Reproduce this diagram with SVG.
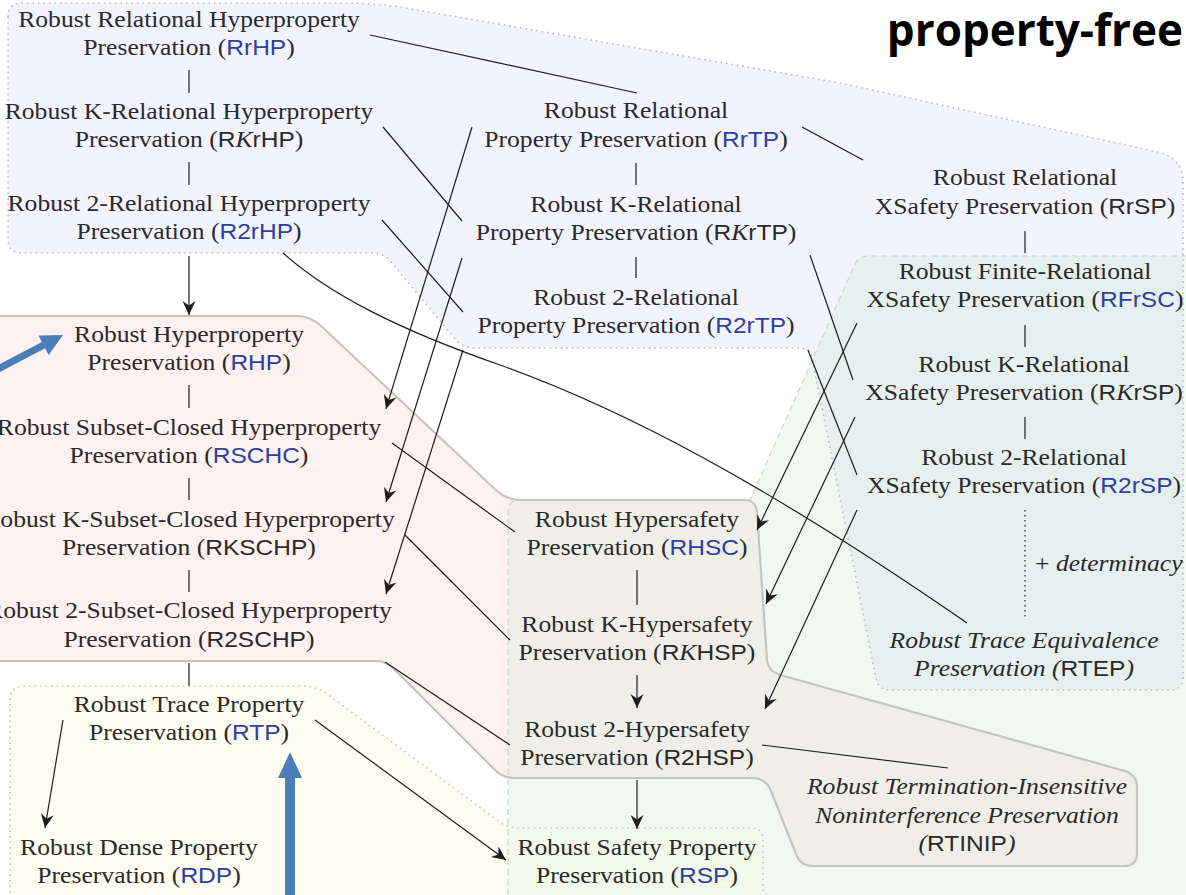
<svg xmlns="http://www.w3.org/2000/svg" width="1186" height="895" viewBox="0 0 1186 895">
  <style>
    .t { font-family: "Liberation Serif", "Times New Roman", serif; font-size: 23px; fill: #2a2a2a; text-anchor: middle; }
    .s { font-family: "Liberation Sans", Arial, sans-serif; font-size: 22px; }
    .lk { fill: #2f3f9f; }
    .it { font-style: italic; }
    .e { stroke: #1e1e1e; stroke-width: 1.2; fill: none; }
    .arr { marker-end: url(#stealth); }
    .blue { fill: #4a7ebb; }
    .dotb { fill: none; stroke: #b6b6c0; stroke-width: 1.6; stroke-dasharray: 1.5 4; }
    .doty { fill: none; stroke: #c2c2b8; stroke-width: 1.6; stroke-dasharray: 1.5 4; }
    .solid { fill: none; stroke: #c6c3c3; stroke-width: 2.2; }
    .dash { fill: none; stroke: #cad2cc; stroke-width: 1.2; stroke-dasharray: 6 4; }
  </style>
  <defs>
    <marker id="stealth" viewBox="-15 -8 16 16" refX="0" refY="0" markerWidth="16" markerHeight="16" markerUnits="userSpaceOnUse" orient="auto">
      <path d="M0,0 L-14,-6.5 L-9.5,0 L-14,6.5 Z" fill="#1e1e1e"/>
    </marker>
    <!-- region outlines -->
    <path id="reg-lav" d="M8,17 Q8,3 22,3 L345,3 Q372,3 400,7 L840,83 L1158,152 Q1183,158 1183,182 L1183,677 Q1183,690 1170,690 L890,690 Q878,690 876,678 L812,358 Q810,348 798,348 L475,348 Q463,348 456,340 L391,262 Q384,253 372,253 L22,253 Q8,253 8,239 Z"/>
    <path id="reg-pink" d="M-10,316 L296,316 Q310,316 320,325 L497,491 Q507,500 521,500 L744,500 Q756,500 757,512 L767,660 Q768,671 780,675 L1125,771 Q1137,775 1137,787 L1137,853 Q1137,866 1124,866 L813,866 Q800,866 796,854 L771,791 Q766,778 752,778 L514,778 Q503,778 495,770 L393,668 Q386,661 376,661 L-10,661 Z"/>
    <path id="reg-yel" d="M10,700 Q10,686 24,686 L303,686 Q316,686 326,693 L497,820 Q507,828 519,828 L751,828 Q763,828 763,840 L763,905 L10,905 Z"/>
    <path id="reg-green" d="M508,905 L508,512 Q508,500 520,500 L750,500 L855,264 Q859,256 868,256 L1195,256 L1195,905 Z"/>
    <clipPath id="clip-green">
      <use href="#reg-green"/>
    </clipPath>
  </defs>

  <rect width="1186" height="895" fill="#ffffff"/>

  <!-- region fills -->
  <g id="regions">
    <use href="#reg-green" fill="#eff9f1"/>
    <use href="#reg-lav" fill="#f3f3fd"/>
    <use href="#reg-pink" fill="#fdf1f1"/>
    <use href="#reg-yel" fill="#fcfcf1"/>
    <g clip-path="url(#clip-green)">
      <use href="#reg-lav" fill="#e6f0ee"/>
      <use href="#reg-pink" fill="#efefe8"/>
      <use href="#reg-yel" fill="#f2f8ea"/>
    </g>
    <use href="#reg-green" class="dash"/>
    <use href="#reg-lav" class="dotb"/>
    <use href="#reg-pink" class="solid"/>
    <use href="#reg-yel" class="doty"/>
  </g>

  <!-- title -->
  <text id="title" x="1183" y="46" font-family="'Open Sans', 'Liberation Sans', sans-serif" font-weight="700" font-size="44" text-anchor="end" fill="#000000">property-free</text>

  <!-- connectors -->
  <g id="connectors">
    <path class="e" d="M189,70 V93"/>
    <path class="e" d="M189,162 V185"/>
    <path class="e" d="M636,163 V185"/>
    <path class="e" d="M636,257 V278"/>
    <path class="e" d="M1025,231 V253"/>
    <path class="e" d="M1025,325 V347"/>
    <path class="e" d="M1025,417 V439"/>
    <path class="e" d="M189,385 V408"/>
    <path class="e" d="M189,478 V500"/>
    <path class="e" d="M189,570 V592"/>
    <path class="e" d="M189,663 V686"/>
    <path class="e" d="M637,570 V605"/>
    <path class="e" d="M370,35 L637,93"/>
    <path class="e" d="M383,127 L462,221"/>
    <path class="e" d="M382,220 L463,312"/>
    <path class="e" d="M802,127 L863,160"/>
    <path class="e" d="M810,255 L853,380"/>
    <path class="e" d="M808,350 L857,475"/>
    <path class="e" d="M392,443 L515,532"/>
    <path class="e" d="M405,535 L510,640"/>
    <path class="e" d="M385,662 L510,745"/>
    <path class="e" d="M762,745 L948,768"/>
    <path class="e" d="M283,253 C330,295 400,330 500,365 C620,408 760,480 967,623"/>
    <path class="e" d="M1025,510 V618" stroke-dasharray="1.5 3.5"/>
    <path class="e arr" d="M189,256 V315"/>
    <path class="e arr" d="M472,127 L386,409"/>
    <path class="e arr" d="M462,258 L386,502"/>
    <path class="e arr" d="M463,350 L386,594"/>
    <path class="e arr" d="M857,323 L757,530"/>
    <path class="e arr" d="M855,417 L766,604"/>
    <path class="e arr" d="M857,510 L765,709"/>
    <path class="e arr" d="M637,675 V708"/>
    <path class="e arr" d="M637,780 V829"/>
    <path class="e arr" d="M315,720 L506,860"/>
    <path class="e arr" d="M63,720 L45,828"/>
    <!-- thick blue pointers -->
    <polygon class="blue" points="-9.6,369.1 41.9,342.1 38.4,335.4 63,335 48.6,355 45.1,348.3 -6.4,375.3"/>
    <polygon class="blue" points="285,900 285,778 278,778 290,752 302,778 295,778 295,900"/>
  </g>

  <!-- relational hyperproperties -->
  <g id="n-rrhp" transform="translate(189 0) scale(1.115 1)">
    <text class="t" x="0" y="27">Robust Relational Hyperproperty</text>
    <text class="t" x="0" y="55">Preservation (<tspan class="s lk">RrHP</tspan>)</text>
  </g>
  <g id="n-rkrhp" transform="translate(189 0) scale(1.115 1)">
    <text class="t" x="0" y="119">Robust K-Relational Hyperproperty</text>
    <text class="t" x="0" y="147">Preservation (<tspan class="s">R</tspan><tspan class="it">K</tspan><tspan class="s">rHP</tspan>)</text>
  </g>
  <g id="n-r2rhp" transform="translate(189 0) scale(1.115 1)">
    <text class="t" x="0" y="211">Robust 2-Relational Hyperproperty</text>
    <text class="t" x="0" y="239">Preservation (<tspan class="s lk">R2rHP</tspan>)</text>
  </g>

  <!-- relational trace properties -->
  <g id="n-rrtp" transform="translate(636 0) scale(1.115 1)">
    <text class="t" x="0" y="118">Robust Relational</text>
    <text class="t" x="0" y="147">Property Preservation (<tspan class="s lk">RrTP</tspan>)</text>
  </g>
  <g id="n-rkrtp" transform="translate(636 0) scale(1.115 1)">
    <text class="t" x="0" y="212">Robust K-Relational</text>
    <text class="t" x="0" y="240">Property Preservation (<tspan class="s">R</tspan><tspan class="it">K</tspan><tspan class="s">rTP</tspan>)</text>
  </g>
  <g id="n-r2rtp" transform="translate(636 0) scale(1.115 1)">
    <text class="t" x="0" y="305">Robust 2-Relational</text>
    <text class="t" x="0" y="333">Property Preservation (<tspan class="s lk">R2rTP</tspan>)</text>
  </g>

  <!-- relational safety -->
  <g id="n-rrsp" transform="translate(1025 0) scale(1.115 1)">
    <text class="t" x="0" y="185">Robust Relational</text>
    <text class="t" x="0" y="214">XSafety Preservation (<tspan class="s">RrSP</tspan>)</text>
  </g>
  <g id="n-rfrsc" transform="translate(1025 0) scale(1.115 1)">
    <text class="t" x="0" y="279">Robust Finite-Relational</text>
    <text class="t" x="0" y="307">XSafety Preservation (<tspan class="s lk">RFrSC</tspan>)</text>
  </g>
  <g id="n-rkrsp" transform="translate(1024 0) scale(1.115 1)">
    <text class="t" x="0" y="372">Robust K-Relational</text>
    <text class="t" x="0" y="400">XSafety Preservation (<tspan class="s">R</tspan><tspan class="it">K</tspan><tspan class="s">rSP</tspan>)</text>
  </g>
  <g id="n-r2rsp" transform="translate(1024 0) scale(1.115 1)">
    <text class="t" x="0" y="465">Robust 2-Relational</text>
    <text class="t" x="0" y="493">XSafety Preservation (<tspan class="s lk">R2rSP</tspan>)</text>
  </g>
  <g id="lbl-determinacy" transform="translate(1035 0) scale(1.115 1)">
    <text class="t" x="0" y="571" text-anchor="start" style="text-anchor:start">+ <tspan class="it">determinacy</tspan></text>
  </g>
  <g id="n-rtep" transform="translate(1024 0) scale(1.115 1)">
    <text class="t it" x="0" y="648">Robust Trace Equivalence</text>
    <text class="t it" x="0" y="676">Preservation (<tspan class="s" font-style="normal">RTEP</tspan>)</text>
  </g>

  <!-- hyperproperties -->
  <g id="n-rhp" transform="translate(189 0) scale(1.115 1)">
    <text class="t" x="0" y="342">Robust Hyperproperty</text>
    <text class="t" x="0" y="370">Preservation (<tspan class="s lk">RHP</tspan>)</text>
  </g>
  <g id="n-rschc" transform="translate(189 0) scale(1.115 1)">
    <text class="t" x="0" y="435">Robust Subset-Closed Hyperproperty</text>
    <text class="t" x="0" y="463">Preservation (<tspan class="s lk">RSCHC</tspan>)</text>
  </g>
  <g id="n-rkschp" transform="translate(189 0) scale(1.115 1)">
    <text class="t" x="0" y="527">Robust K-Subset-Closed Hyperproperty</text>
    <text class="t" x="0" y="555">Preservation (<tspan class="s">RKSCHP</tspan>)</text>
  </g>
  <g id="n-r2schp" transform="translate(189 0) scale(1.115 1)">
    <text class="t" x="0" y="618">Robust 2-Subset-Closed Hyperproperty</text>
    <text class="t" x="0" y="647">Preservation (<tspan class="s">R2SCHP</tspan>)</text>
  </g>

  <!-- trace properties -->
  <g id="n-rtp" transform="translate(189 0) scale(1.115 1)">
    <text class="t" x="0" y="712">Robust Trace Property</text>
    <text class="t" x="0" y="740">Preservation (<tspan class="s lk">RTP</tspan>)</text>
  </g>
  <g id="n-rdp" transform="translate(139 0) scale(1.115 1)">
    <text class="t" x="0" y="855">Robust Dense Property</text>
    <text class="t" x="0" y="883">Preservation (<tspan class="s lk">RDP</tspan>)</text>
  </g>

  <!-- hypersafety -->
  <g id="n-rhsc" transform="translate(637 0) scale(1.115 1)">
    <text class="t" x="0" y="527">Robust Hypersafety</text>
    <text class="t" x="0" y="555">Preservation (<tspan class="s lk">RHSC</tspan>)</text>
  </g>
  <g id="n-rkhsp" transform="translate(637 0) scale(1.115 1)">
    <text class="t" x="0" y="632">Robust K-Hypersafety</text>
    <text class="t" x="0" y="660">Preservation (<tspan class="s">R</tspan><tspan class="it">K</tspan><tspan class="s">HSP</tspan>)</text>
  </g>
  <g id="n-r2hsp" transform="translate(637 0) scale(1.115 1)">
    <text class="t" x="0" y="737">Robust 2-Hypersafety</text>
    <text class="t" x="0" y="765">Preservation (<tspan class="s">R2HSP</tspan>)</text>
  </g>
  <g id="n-rsp" transform="translate(637 0) scale(1.115 1)">
    <text class="t" x="0" y="855">Robust Safety Property</text>
    <text class="t" x="0" y="883">Preservation (<tspan class="s lk">RSP</tspan>)</text>
  </g>
  <g id="n-rtinip" transform="translate(967 0) scale(1.115 1)">
    <text class="t it" x="0" y="794">Robust Termination-Insensitive</text>
    <text class="t it" x="0" y="823">Noninterference Preservation</text>
    <text class="t it" x="0" y="851">(<tspan class="s" font-style="normal">RTINIP</tspan>)</text>
  </g>
</svg>
